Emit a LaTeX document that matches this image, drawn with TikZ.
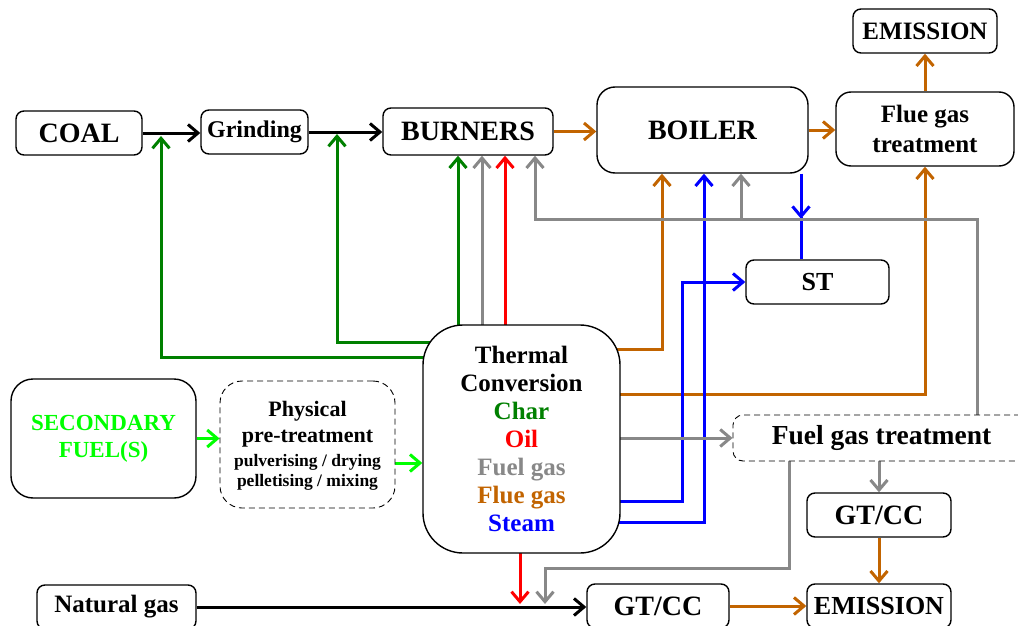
\documentclass[tikz,border=0pt]{standalone}
\usepackage{fontspec}
\setmainfont{Liberation Serif}
\usetikzlibrary{arrows.meta,calc}
\pgfdeclarelayer{bg}
\pgfsetlayers{bg,main}
\definecolor{cgreen}{RGB}{0,128,0}
\definecolor{clime}{RGB}{0,255,0}
\definecolor{cred}{RGB}{255,0,0}
\definecolor{cgray}{RGB}{136,136,136}
\definecolor{cbrown}{RGB}{194,100,0}
\definecolor{cblue}{RGB}{0,0,255}
\newcommand\fsz[2]{\fontsize{#1}{#2}\selectfont}
\begin{document}
\begin{tikzpicture}[x=1pt,y=-1pt,
  box/.style={draw=black,line width=1.4pt,fill=white,rounded corners=8pt,align=center,inner sep=0pt},
  dbox/.style={box,line width=0.9pt,dash pattern=on 6pt off 4pt},
  conn/.style={line width=3pt,-{Straight Barb[length=10pt,width=17pt]}},
  plain/.style={line width=3pt}]
\useasboundingbox (0,0) rectangle (1018,626);

% nodes
\node[box,minimum width=126,minimum height=44,font=\bfseries\fsz{28}{30}] (coal) at (79,133) {COAL};
\node[box,minimum width=107,minimum height=44,font=\bfseries\fsz{24}{26}] (grind) at (254.5,132) {Grinding};
\node[box,minimum width=170,minimum height=47,font=\bfseries\fsz{28}{30}] (burn) at (468,131.5) {BURNERS};
\node[box,minimum width=211,minimum height=86,rounded corners=18pt,font=\bfseries\fsz{28}{30}] (boiler) at (702.5,130) {BOILER};
\node[box,minimum width=144,minimum height=44,font=\bfseries\fsz{25}{30}] (emis1) at (925,31) {EMISSION};
\node[box,minimum width=178,minimum height=74,rounded corners=15pt,font=\bfseries\fsz{25}{30}] (fgt) at (925,129) {Flue gas\\treatment};
\node[box,minimum width=143,minimum height=44,font=\bfseries\fsz{26}{30}] (st) at (817.5,282) {ST};
\node[box,minimum width=197,minimum height=228,rounded corners=40pt,font=\bfseries\fsz{25}{28}] (tc) at (521.5,439)
  {Thermal\\Conversion\\\textcolor{cgreen}{Char}\\\textcolor{cred}{Oil}\\\textcolor{cgray}{Fuel gas}\\\textcolor{cbrown}{Flue gas}\\\textcolor{cblue}{Steam}};
\node[box,minimum width=185,minimum height=119,rounded corners=22pt,text=clime,font=\bfseries\fsz{23}{27}] (sec) at (103.5,438.5) {SECONDARY\\FUEL(S)};
\node[dbox,minimum width=175,minimum height=127,rounded corners=22pt,font=\bfseries\fsz{22}{26},text depth=2pt] (phys) at (307.5,444.5)
  {Physical\\pre-treatment\\[-2pt]{\fsz{17.5}{19}pulverising / drying}\\[-6pt]{\fsz{17.5}{19}pelletising / mixing}};
\node[dbox,minimum width=297,minimum height=46,rounded corners=10pt,font=\bfseries\fsz{27.5}{30}] (fuelgt) at (881.5,438) {Fuel gas treatment};
\node[box,minimum width=144,minimum height=44,font=\bfseries\fsz{28}{30}] (gtcc1) at (879,515) {GT/CC};
\node[box,minimum width=144,minimum height=44,font=\bfseries\fsz{26}{30}] (emis2) at (879,606) {EMISSION};
\node[box,minimum width=142,minimum height=44,font=\bfseries\fsz{28}{30}] (gtcc2) at (658,606) {GT/CC};
\node[box,minimum width=159,minimum height=44,font=\bfseries\fsz{25}{26}] (ng) at (116.5,607) {Natural gas};

% connectors
\begin{pgfonlayer}{bg}
\coordinate (j1) at (161,136);
\coordinate (j2) at (337,134);
\coordinate (j3) at (520,604);
\coordinate (j4) at (545,604);
% black main line
\draw[conn] (coal.east) -- (coal.east -| grind.west);
\draw[conn] (grind.east) -- (grind.east -| burn.west);
\draw[conn] (ng.east) -- (ng.east -| gtcc2.west);
% green
\draw[conn,cgreen] ([yshift=82pt]tc.center) -| (j1);
\draw[conn,cgreen] ([yshift=97pt]tc.center) -| (j2);
\draw[conn,cgreen] ([xshift=-63.5pt]tc.center) -- ([xshift=-63.5pt]tc.center |- burn.south);
% gray & red to burners
\draw[conn,cgray] ([xshift=-39.5pt]tc.center) -- ([xshift=-39.5pt]tc.center |- burn.south);
\draw[conn,cred] ([xshift=-16.5pt]tc.center) -- ([xshift=-16.5pt]tc.center |- burn.south);
% brown
\draw[conn,cbrown] (burn.east) -- (burn.east -| boiler.west);
\draw[conn,cbrown] (boiler.east) -- (boiler.east -| fgt.west);
\draw[conn,cbrown] (fgt.north) -- (emis1.south);
\draw[conn,cbrown] ([yshift=90pt]tc.center) -| ([xshift=-40.5pt]boiler.south);
\draw[conn,cbrown] ([yshift=45pt]tc.center) -| (fgt.south);
\draw[conn,cbrown] (gtcc1.south) -- (emis2.north);
\draw[conn,cbrown] (gtcc2.east) -- (gtcc2.east -| emis2.west);
% blue
\draw[conn,cblue] ([yshift=-62pt]tc.center) -| ([xshift=-63pt]st.west) -- (st.west);
\draw[conn,cblue] ([yshift=-83pt]tc.center) -| ([xshift=1.5pt]boiler.south);
\draw[conn,cblue] ([xshift=98.5pt]boiler.south) -- ++(0,45);
\draw[plain,cblue] ([xshift=-16.5pt]st.north) -- ++(0,-42);
% gray fuel gas
\draw[conn,cgray] ([xshift=95.5pt]fuelgt.north) |- ([xshift=67pt,yshift=-64pt]burn.south) -- ([xshift=67pt]burn.south);
\draw[conn,cgray] ([xshift=38.5pt,yshift=-46pt]boiler.south) -- ([xshift=38.5pt]boiler.south);
\draw[conn,cgray] (tc.center |- fuelgt.west) -- (fuelgt.west);
\draw[conn,cgray] (fuelgt.south -| gtcc1.north) -- (gtcc1.north);
\draw[conn,cgray] ([xshift=-92.5pt]fuelgt.south) |- ([yshift=36pt]j4) -- (j4);
\draw[conn,cred] (tc.center -| j3) -- (j3);
% lime
\draw[conn,clime] (sec.east) -- (sec.east -| phys.west);
\draw[conn,clime] ([yshift=-18.5pt]phys.center) -- ([yshift=-18.5pt]phys.center -| tc.west);
\end{pgfonlayer}
\end{tikzpicture}
\end{document}
